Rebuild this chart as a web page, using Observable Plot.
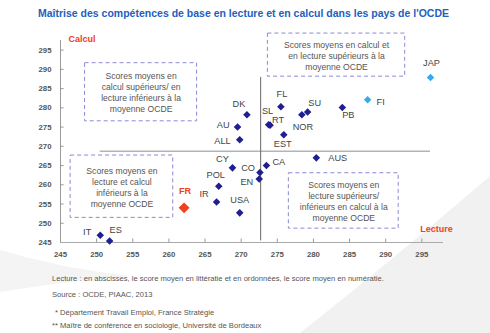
<!DOCTYPE html>
<html>
<head>
<meta charset="utf-8">
<script src="https://cdn.jsdelivr.net/npm/d3@7"></script>
<script src="https://cdn.jsdelivr.net/npm/@observablehq/plot@0.6"></script>
<style>
  html, body { margin: 0; padding: 0; background: #fff; }
  #wrap { position: relative; width: 490px; height: 333px; overflow: hidden; font-family: "Liberation Sans", Arial, sans-serif; }
  #bg { position: absolute; left: 0; top: 0; }
  #title { position: absolute; left: 0; width: 487px; top: 7px; text-align: center; font-weight: bold; font-size: 10.5px; color: #2360bd; white-space: nowrap; }
  #chart { position: absolute; left: 0; top: 0; }
  .foot { position: absolute; left: 52px; font-size: 7.6px; color: #555; white-space: nowrap; }
</style>
</head>
<body>
<div id="wrap">
  <svg id="bg" width="490" height="333">
    <path d="M 300 333 Q 390 262 490 176 L 490 333 Z" fill="#f1f1f1"></path>
    <path d="M 0 250 Q 60 268 130 276 Q 60 282 0 292 Z" fill="#f4f4f4"></path>
  </svg>
  <div id="chart"></div>
  <div id="title">Maîtrise des compétences de base en lecture et en calcul dans les pays de l'OCDE</div>
  <div class="foot" style="top:274px">Lecture : en abscisses, le score moyen en littératie et en ordonnées, le score moyen en numératie.</div>
  <div class="foot" style="top:290px">Source : OCDE, PIAAC, 2013</div>
  <div class="foot" style="top:308px;left:55px">* Département Travail Emploi, France Stratégie</div>
  <div class="foot" style="top:321px">** Maître de conférence en sociologie, Université de Bordeaux</div>
</div>
<script>
// ---- data ----
const countries = ["IT","ES","FR","USA","IR","POL","CY","EN","CO","CA","AUS","EST","ALL","AU","DK","SL","RT","FL","NOR","SU","PB","FI","JAP"];
const lecture   = [250.5,251.8,262.1,269.8,266.6,266.9,268.8,272.5,272.6,273.5,280.4,275.9,269.8,269.5,270.8,273.8,274.0,275.5,278.4,279.2,284.0,287.5,296.2];
const calcul    = [246.9,245.4,254.0,252.7,255.5,259.6,264.4,261.5,263.2,265.0,267.0,273.0,271.7,275.0,278.2,275.6,275.5,280.3,278.2,278.9,280.1,282.1,287.9];
const highlightCountry = "FR";
const lightCountries = ["FI","JAP"];
const oecdLecture = 272.7;
const oecdCalcul = 268.7;
const xTicks = [245,250,255,260,265,270,275,280,285,290,295];
const yTicks = [245,250,255,260,265,270,275,280,285,290,295];
const quadrantTexts = [
  "Scores moyens en calcul et\nen lecture supérieurs à la\nmoyenne OCDE",
  "Scores moyens en\ncalcul supérieurs/ en\nlecture inférieurs à la\nmoyenne OCDE",
  "Scores moyens en\nlecture et calcul\ninférieurs à la\nmoyenne OCDE",
  "Scores moyens en\nlecture supérieurs/\ninférieurs en calcul à la\nmoyenne OCDE"
];

// ---- layout (kept apart from data) ----
const quadrantBoxes = [
  {x1: 273.7, x2: 292.7, y1: 288.1, y2: 299.3},
  {x1: 248.4, x2: 263.9, y1: 276.5, y2: 291.6},
  {x1: 246.4, x2: 260.6, y1: 251.4, y2: 267.6},
  {x1: 276.6, x2: 291.8, y1: 248.6, y2: 263.0}
];
const labelPlacement = {
  IT: ["end",-9,-3], ES: ["middle",6,-11], FR: ["middle",1,-17], USA: ["middle",0,-13],
  IR: ["end",-8,-8], POL: ["middle",-3,-11], CY: ["middle",-10,-9], EN: ["end",-6,3],
  CO: ["end",-5,-4], CA: ["start",6,-4], AUS: ["start",12,0], EST: ["middle",-1,9],
  ALL: ["end",-9,1], AU: ["end",-8,-2], DK: ["middle",-8,-11], SL: ["middle",-1,-14],
  RT: ["middle",8,-5], FL: ["middle",1,-13], NOR: ["middle",1,12], SU: ["middle",7,-9],
  PB: ["middle",6,8], FI: ["start",9,2], JAP: ["middle",1,-14]
};

const navy = "#1f1f92", light = "#36aaf0", red = "#f0401e";
const rows = countries.map((c, i) => ({country: c, lecture: lecture[i], calcul: calcul[i]}));
const colorOf = c => c === highlightCountry ? red : lightCountries.includes(c) ? light : navy;
const boxes = quadrantBoxes.map((b, i) => ({...b, text: quadrantTexts[i]}));

const latExt = d3.extent(lecture), calExt = d3.extent(calcul);

const labelMarks = rows.filter(r => r.country !== highlightCountry).map(r => Plot.text([r], {
  x: "lecture", y: "calcul", text: "country",
  textAnchor: labelPlacement[r.country][0], dx: labelPlacement[r.country][1], dy: labelPlacement[r.country][2],
  fontSize: 9.2, fill: "#444"
}));

const fr = rows.filter(r => r.country === highlightCountry);

const chart = Plot.plot({
  width: 490, height: 268,
  marginLeft: 60, marginRight: 47, marginTop: 40, marginBottom: 26,
  style: {fontFamily: "Liberation Sans, Arial, sans-serif", background: "transparent", overflow: "visible"},
  x: {domain: [245, 298]},
  y: {domain: [245, 297.5]},
  marks: [
    Plot.rect(boxes, {x1: "x1", x2: "x2", y1: "y1", y2: "y2", fill: "none", stroke: "#8a8ad6", strokeWidth: 1, strokeDasharray: "4,3"}),
    Plot.text(boxes, {x: d => (d.x1 + d.x2) / 2, y: d => (d.y1 + d.y2) / 2, text: "text", fontSize: 8.6, lineHeight: 1.28, fill: "#555"}),
    Plot.ruleY([oecdCalcul], {x1: latExt[0], x2: latExt[1], stroke: "#b4b4b4", strokeWidth: 1.5}),
    Plot.ruleX([oecdLecture], {y1: calExt[0], y2: calExt[1], stroke: "#666", strokeWidth: 1}),
    Plot.ruleY([245], {stroke: "#aaa", strokeWidth: 1.2}),
    Plot.ruleX([245], {stroke: "#999", strokeWidth: 1}),
    Plot.ruleX(xTicks.slice(1), {y1: 245, y2: 245.9, stroke: "#999"}),
    Plot.ruleY(yTicks.slice(1), {x1: 245, x2: 245.5, stroke: "#999"}),
    Plot.axisX(xTicks, {tickSize: 0, tickPadding: 9, fontSize: 7.8, fontWeight: "bold", fill: "#555", label: null}),
    Plot.axisY(yTicks, {tickSize: 0, tickPadding: 9, fontSize: 7.8, fontWeight: "bold", fill: "#555", label: null}),
    Plot.dot(rows.filter(r => r.country !== highlightCountry), {x: "lecture", y: "calcul", symbol: "diamond2", r: 3.4, fill: d => colorOf(d.country), stroke: "none"}),
    Plot.dot(fr, {x: "lecture", y: "calcul", symbol: "diamond2", r: 4.9, fill: red, stroke: "none"}),
    ...labelMarks,
    Plot.text(fr, {x: "lecture", y: "calcul", text: "country", dx: labelPlacement.FR[1], dy: labelPlacement.FR[2], fontSize: 9.2, fontWeight: "bold", fill: red}),
    Plot.text(["Lecture"], {frameAnchor: "bottom-right", textAnchor: "middle", dx: -7, dy: -11, fontSize: 9, fontWeight: "bold", fill: red}),
    Plot.text(["Calcul"], {frameAnchor: "top-left", textAnchor: "middle", dx: 21.5, dy: -4.5, fontSize: 9, fontWeight: "bold", fill: red})
  ]
});
document.getElementById("chart").appendChild(chart);
</script>
</body>
</html>
